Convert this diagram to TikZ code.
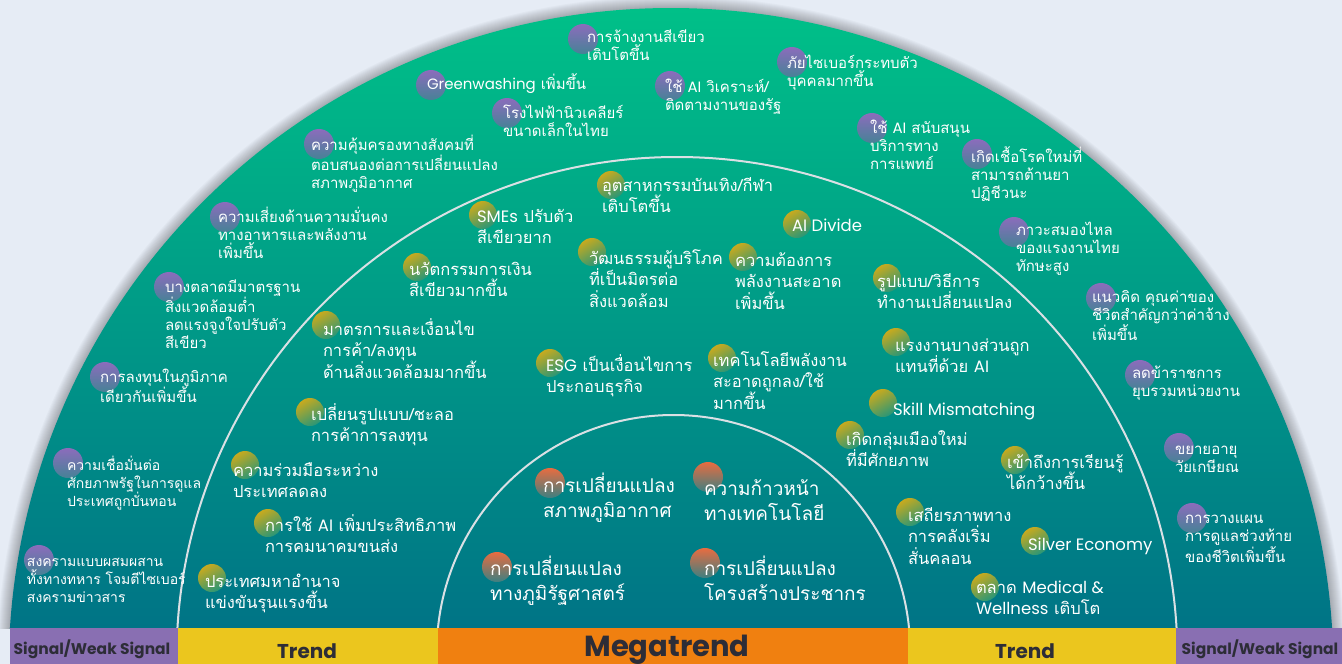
\documentclass[tikz,border=0pt]{standalone}
\usepackage{fontspec}
\newfontfamily\thai[Script=Thai]{Loma}
\newfontfamily\pop{Poppins}
\newcommand\lat[1]{{\pop #1}}
\newcommand\fl{\rule{0pt}{1.38em}}
\definecolor{bgc}{RGB}{230,236,245}
\definecolor{gtop}{RGB}{0,192,136}
\definecolor{gbot}{RGB}{0,116,134}
\definecolor{arcc}{RGB}{218,224,228}
\definecolor{sigc}{RGB}{137,111,178}
\definecolor{trc}{RGB}{235,198,30}
\definecolor{mgc}{RGB}{240,128,16}
\definecolor{labc}{RGB}{45,45,55}
\definecolor{pA}{RGB}{140,108,188}
\definecolor{pB}{RGB}{70,130,150}
\definecolor{yA}{RGB}{200,170,30}
\definecolor{yB}{RGB}{40,150,120}
\definecolor{oA}{RGB}{232,108,64}
\definecolor{oB}{RGB}{60,128,130}
\tikzset{
  arcline/.style={draw=arcc, line width=2pt},
  sigdot/.style={top color=pA, bottom color=pB},
  trdot/.style={top color=yA, bottom color=yB, shading angle=30},
  mgdot/.style={top color=oA, bottom color=oB},
  itemtext/.style={anchor=north west, inner sep=0pt, outer sep=0pt, text=white, align=left, yshift=#1pt},
  sigtext/.style={itemtext=20.7, font=\thai\fontsize{15}{18.3}\selectfont},
  sigtextsm/.style={itemtext=19.32, font=\thai\fontsize{14}{18.3}\selectfont},
  trtext/.style={itemtext=22.77, font=\thai\fontsize{16.5}{21.8}\selectfont},
  mgtext/.style={itemtext=26.22, font=\thai\fontsize{19}{25}\selectfont},
  barlab/.style={anchor=base, inner sep=0pt, text=labc},
}
\begin{document}
\begin{tikzpicture}[x=1pt,y=-1pt]
\useasboundingbox (0,0) rectangle (1342,664);
\fill[bgc] (0,0) rectangle (1342,664);
% shadow
\begin{scope}
  \clip (0,0) rectangle (1342,628);
  \foreach \w in {2,4,...,24} {
    \draw[black, opacity=0.024, line width=\w pt] (671,670.4) circle[radius=662.4];
  }
\end{scope}
% main fan
\begin{scope}
  \clip (0,0) rectangle (1342,628);
  \clip (671,670.4) circle[radius=662.4];
  \shade[top color=gtop, bottom color=gbot] (0,8) rectangle (1342,628);
  \draw[arcline] (677,657.4) circle[radius=500.4];
  \draw[arcline] (673.5,651.7) circle[radius=236.7];
\end{scope}
% bottom bar
\fill[sigc] (10,628) rectangle (178,664);
\fill[trc] (178,628) rectangle (438,664);
\fill[mgc] (438,628) rectangle (908,664);
\fill[trc] (908,628) rectangle (1176,664);
\fill[sigc] (1176,628) rectangle (1342,664);
\node[barlab, font=\pop\bfseries\fontsize{15.5}{18}\selectfont] (bl1) at (92,654) {Signal/Weak Signal};
\node[barlab, font=\pop\bfseries\fontsize{20}{24}\selectfont] (bl2) at (307,658) {Trend};
\node[barlab, font=\pop\bfseries\fontsize{29}{32}\selectfont] (bl3) at (667,656) {Megatrend};
\node[barlab, font=\pop\bfseries\fontsize{20}{24}\selectfont] (bl4) at (1025,658) {Trend};
\node[barlab, font=\pop\bfseries\fontsize{15.5}{18}\selectfont] (bl5) at (1260,654) {Signal/Weak Signal};

% ---- signal dots
\foreach \x/\y in {583/39,431/85,507/113,670/86,792/62,872/128,977/154,1014/232,1101/298,1140/375,1179/448,1192/518,319/144,225/217,169/287,105/377,68/463,39/560}
  \shade[sigdot] (\x,\y) circle[radius=15];
% ---- trend dots
\foreach \x/\y in {611/185,483/215,797/224,592/252,743/257,417/267,887/278,326/325,896/342,550/363,722/358,883/403,310/412,850/435,1015/460,245/465,910/512,268/523,1035/541,212/578,985/587}
  \shade[trdot] (\x,\y) circle[radius=14];
% ---- megatrend dots
\foreach \x/\y in {550/483,708/477,497/567,705/563}
  \shade[mgdot] (\x,\y) circle[radius=15];

% ---- signal texts
\node[sigtext] (s1) at (587,42) {\fl การจ้างงานสีเขียว\\เติบโตขึ้น};
\node[sigtext] (s2) at (427,89) {\fl\lat{Greenwashing} เพิ่มขึ้น};
\node[sigtext] (s3) at (503,118) {\fl โรงไฟฟ้านิวเคลียร์\\ขนาดเล็กในไทย};
\node[sigtext] (s4) at (665,92) {\fl ใช้ \lat{AI} วิเคราะห์/\\ติดตามงานของรัฐ};
\node[sigtext] (s5) at (787,68) {\fl ภัยไซเบอร์กระทบตัว\\บุคคลมากขึ้น};
\node[sigtext] (s6) at (870,133) {\fl ใช้ \lat{AI} สนับสนุน\\บริการทาง\\การแพทย์};
\node[sigtext] (s7) at (971,162) {\fl เกิดเชื้อโรคใหม่ที่\\สามารถต้านยา\\ปฏิชีวนะ};
\node[sigtext] (s8) at (1016,235) {\fl ภาวะสมองไหล\\ของแรงงานไทย\\ทักษะสูง};
\node[sigtext] (s9) at (1092,302) {\fl แนวคิด คุณค่าของ\\ชีวิตสำคัญกว่าค่าจ้าง\\เพิ่มขึ้น};
\node[sigtext] (s10) at (1132,378) {\fl ลดข้าราชการ\\ยุบรวมหน่วยงาน};
\node[sigtext] (s11) at (1175,454) {\fl ขยายอายุ\\วัยเกษียณ};
\node[sigtext] (s12) at (1185,523) {\fl การวางแผน\\การดูแลช่วงท้าย\\ของชีวิตเพิ่มขึ้น};
\node[sigtext] (s13) at (311,150) {\fl ความคุ้มครองทางสังคมที่\\ตอบสนองต่อการเปลี่ยนแปลง\\สภาพภูมิอากาศ};
\node[sigtext] (s14) at (218,222) {\fl ความเสี่ยงด้านความมั่นคง\\ทางอาหารและพลังงาน\\เพิ่มขึ้น};
\node[sigtext] (s15) at (165,292) {\fl บางตลาดมีมาตรฐาน\\สิ่งแวดล้อมต่ำ\\ลดแรงจูงใจปรับตัว\\สีเขียว};
\node[sigtext] (s16) at (100,382) {\fl การลงทุนในภูมิภาค\\เดียวกันเพิ่มขึ้น};
\node[sigtextsm] (s17) at (67,470) {\fl ความเชื่อมั่นต่อ\\ศักยภาพรัฐในการดูแล\\ประเทศถูกบั่นทอน};
\node[sigtextsm] (s18) at (27,566) {\fl สงครามแบบผสมผสาน\\ทั้งทางทหาร โจมตีไซเบอร์\\สงครามข่าวสาร};

% ---- trend texts
\node[trtext] (t1) at (602,191) {\fl อุตสาหกรรมบันเทิง/กีฬา\\เติบโตขึ้น};
\node[trtext] (t2) at (477,222) {\fl\lat{SMEs} ปรับตัว\\สีเขียวยาก};
\node[trtext] (t3) at (792,231) {\fl\lat{AI Divide}};
\node[trtext] (t4) at (589,264) {\fl วัฒนธรรมผู้บริโภค\\ที่เป็นมิตรต่อ\\สิ่งแวดล้อม};
\node[trtext] (t5) at (735,266) {\fl ความต้องการ\\พลังงานสะอาด\\เพิ่มขึ้น};
\node[trtext] (t6) at (409,275) {\fl นวัตกรรมการเงิน\\สีเขียวมากขึ้น};
\node[trtext] (t7) at (877,287) {\fl รูปแบบ/วิธีการ\\ทำงานเปลี่ยนแปลง};
\node[trtext] (t8) at (323,335) {\fl มาตรการและเงื่อนไข\\การค้า/ลงทุน\\ด้านสิ่งแวดล้อมมากขึ้น};
\node[trtext] (t9) at (895,351) {\fl แรงงานบางส่วนถูก\\แทนที่ด้วย \lat{AI}};
\node[trtext] (t10) at (546,371) {\fl\lat{ESG} เป็นเงื่อนไขการ\\ประกอบธุรกิจ};
\node[trtext] (t11) at (713,366) {\fl เทคโนโลยีพลังงาน\\สะอาดถูกลง/ใช้\\มากขึ้น};
\node[trtext] (t12) at (893,415) {\fl\lat{Skill Mismatching}};
\node[trtext] (t13) at (311,420) {\fl เปลี่ยนรูปแบบ/ชะลอ\\การค้าการลงทุน};
\node[trtext] (t14) at (846,445) {\fl เกิดกลุ่มเมืองใหม่\\ที่มีศักยภาพ};
\node[trtext] (t15) at (1007,468) {\fl เข้าถึงการเรียนรู้\\ได้กว้างขึ้น};
\node[trtext] (t16) at (233,476) {\fl ความร่วมมือระหว่าง\\ประเทศลดลง};
\node[trtext] (t17) at (908,521) {\fl เสถียรภาพทาง\\การคลังเริ่ม\\สั่นคลอน};
\node[trtext] (t18) at (265,531) {\fl การใช้ \lat{AI} เพิ่มประสิทธิภาพ\\การคมนาคมขนส่ง};
\node[trtext] (t19) at (1028,550) {\fl\lat{Silver Economy}};
\node[trtext] (t20) at (205,587) {\fl ประเทศมหาอำนาจ\\แข่งขันรุนแรงขึ้น};
\node[trtext] (t21) at (976,593) {\fl ตลาด \lat{Medical \&}\\\lat{Wellness} เติบโต};

% ---- megatrend texts
\node[mgtext] (m1) at (543,492) {\fl การเปลี่ยนแปลง\\สภาพภูมิอากาศ};
\node[mgtext] (m2) at (704,495) {\fl ความก้าวหน้า\\ทางเทคโนโลยี};
\node[mgtext] (m3) at (490,575) {\fl การเปลี่ยนแปลง\\ทางภูมิรัฐศาสตร์};
\node[mgtext] (m4) at (704,575) {\fl การเปลี่ยนแปลง\\โครงสร้างประชากร};
\end{tikzpicture}
\end{document}
